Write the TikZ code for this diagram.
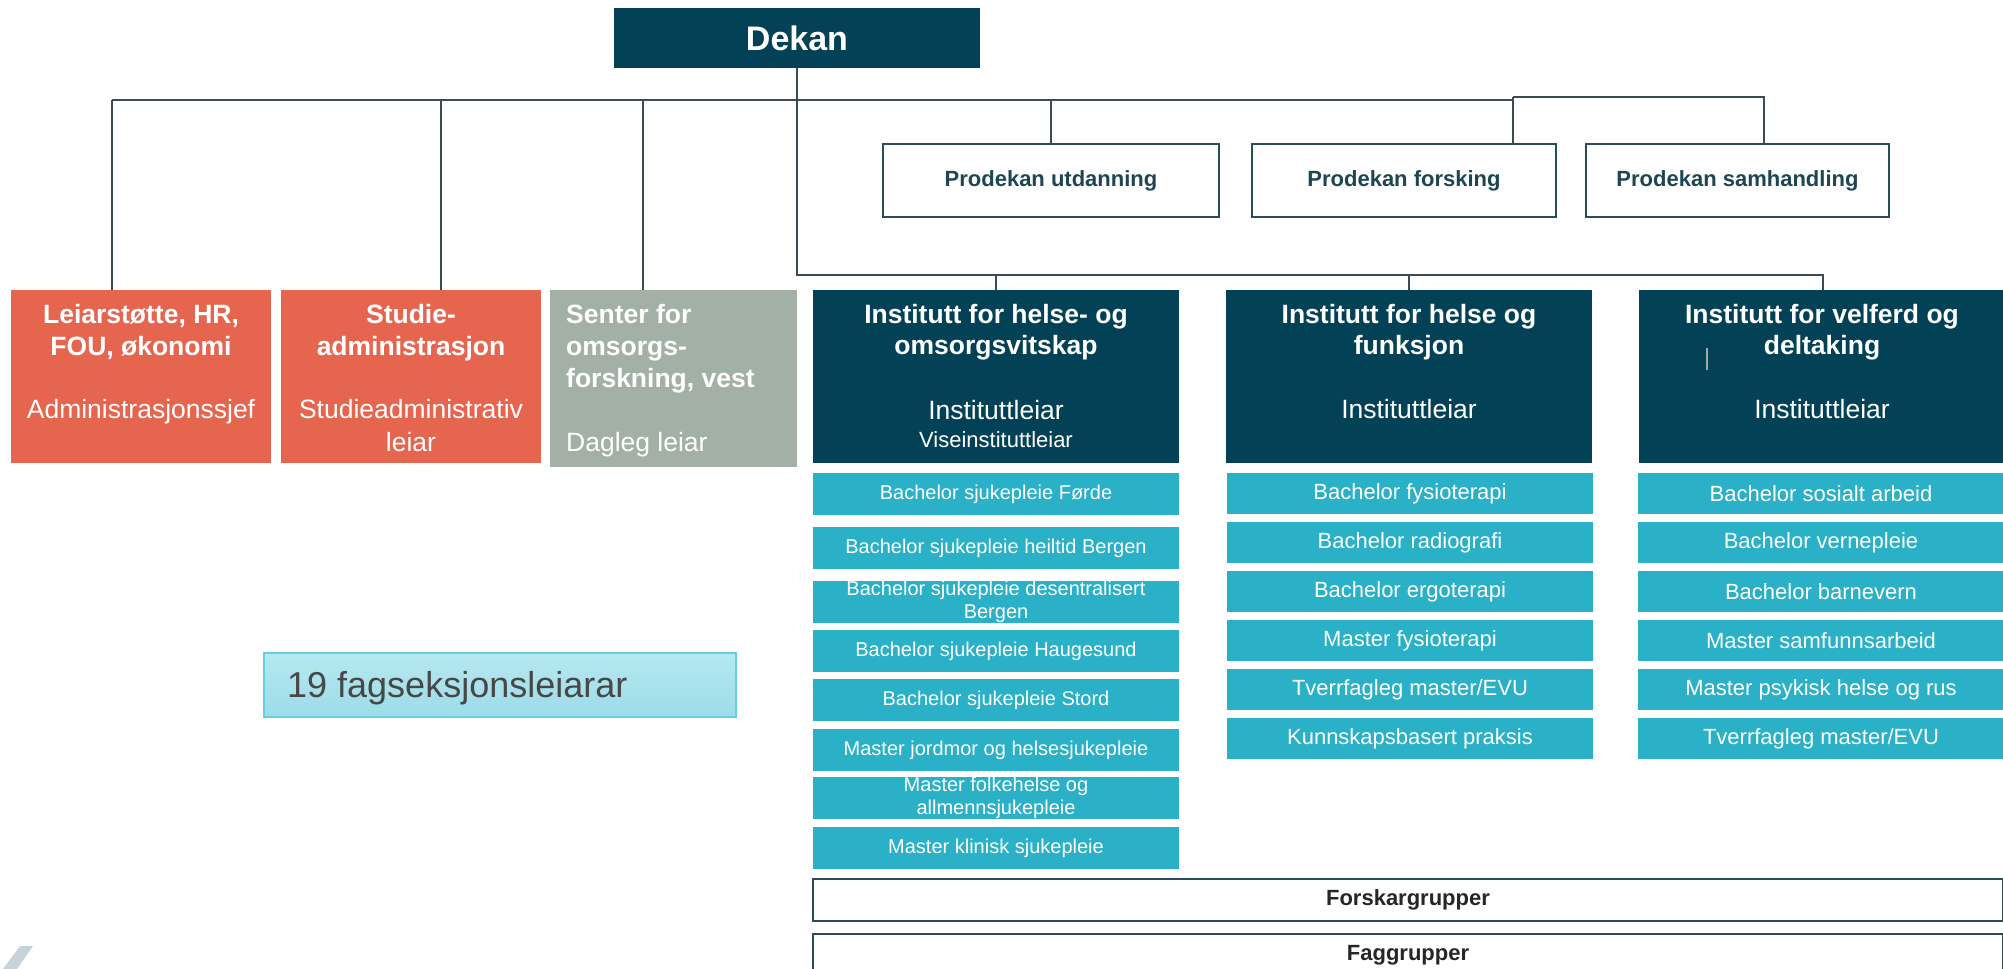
\documentclass[tikz,border=0pt]{standalone}
\usepackage{fontspec}
\setmainfont{Liberation Sans}
\definecolor{dteal}{HTML}{034256}
\definecolor{coral}{HTML}{E6654F}
\definecolor{sage}{HTML}{A2B0A5}
\definecolor{prog}{HTML}{2AB0C7}
\definecolor{conncol}{HTML}{3C4C52}
\definecolor{framecol}{HTML}{2A4E58}
\definecolor{protext}{HTML}{1E4652}
\definecolor{lcyanT}{HTML}{B6E8F0}
\definecolor{lcyanB}{HTML}{9CDCE8}
\definecolor{lcyanD}{HTML}{66D0E2}
\definecolor{logogrey}{HTML}{C6D3DA}
\newcommand\myfs[2]{\fontsize{#1}{#2}\selectfont}
\begin{document}
\begin{tikzpicture}[x=1pt,y=-1pt,
  box/.style={anchor=north west, inner sep=0pt, outer sep=0pt, draw=none},
  conn/.style={draw=conncol, line width=2pt},
  ttl/.style={font=\myfs{26.5}{30}\bfseries, text=white, anchor=base, inner sep=0pt},
  sub/.style={font=\myfs{26.5}{30}, text=white, anchor=base, inner sep=0pt},
  pro/.style={box, fill=white, draw=framecol, line width=2.6pt, minimum height=73pt,
     font=\myfs{22}{26}\bfseries, text=protext, anchor=north west},
  pone/.style={box, fill=prog, minimum width=366pt, minimum height=42pt, text=white,
     font=\myfs{20}{23}, align=center},
  ptwo/.style={box, fill=prog, minimum width=366pt, minimum height=41pt, text=white,
     font=\myfs{22}{25}, align=center},
  band/.style={box, fill=white, draw=framecol, line width=2.6pt, minimum width=1190pt,
     font=\myfs{22}{26}\bfseries, text=black!85}
]
\useasboundingbox (0,0) rectangle (2003,969);
\fill[white] (0,0) rectangle (2003,969);

% Dekan
\node[box, fill=dteal, minimum width=366pt, minimum height=60pt] (dekan) at (614,8) {};
\node[font=\myfs{34}{38}\bfseries, text=white, anchor=base, inner sep=0pt] (dekant) at (797,50) {Dekan};

% Prodekan boxes
\node[pro, minimum width=336pt] (utd) at (883,144) {Prodekan utdanning};
\node[pro, minimum width=304pt] (fors) at (1252,144) {Prodekan forsking};
\node[pro, minimum width=303pt] (samh) at (1586,144) {Prodekan samhandling};

% Left boxes
\node[box, fill=coral, minimum width=260pt, minimum height=173pt] (leiar) at (11,290) {};
\node[box, fill=coral, minimum width=260pt, minimum height=173pt] (studie) at (281,290) {};
\node[box, fill=sage, minimum width=247pt, minimum height=177pt] (senter) at (550,290) {};

\node[ttl] (l1) at (141,323) {Leiarstøtte, HR,};
\node[ttl] (l2) at (141,355) {FOU, økonomi};
\node[sub] (l3) at (141,418) {Administrasjonssjef};

\node[ttl] (s1) at (411,323) {Studie-};
\node[ttl] (s2) at (411,355) {administrasjon};
\node[sub] (s3) at (411,418) {Studieadministrativ};
\node[sub] (s4) at (411,451) {leiar};

\node[ttl, anchor=base west] (c1) at (566,323) {Senter for};
\node[ttl, anchor=base west] (c2) at (566,355) {omsorgs-};
\node[ttl, anchor=base west] (c3) at (566,387) {forskning, vest};
\node[sub, anchor=base west] (c4) at (566,451) {Dagleg leiar};

% Institutes
\node[box, fill=dteal, minimum width=366pt, minimum height=173pt] (inst1) at (813,290) {};
\node[box, fill=dteal, minimum width=366pt, minimum height=173pt] (inst2) at (1226,290) {};
\node[box, fill=dteal, minimum width=367pt, minimum height=173pt] (inst3) at (1639,290) {};

\node[ttl] (i11) at (996,323) {Institutt for helse- og};
\node[ttl] (i12) at (996,354) {omsorgsvitskap};
\node[sub] (i13) at (996,419) {Instituttleiar};
\node[sub, font=\myfs{22}{25}] (i14) at (996,447) {Viseinstituttleiar};

\node[ttl] (i21) at (1409,323) {Institutt for helse og};
\node[ttl] (i22) at (1409,354) {funksjon};
\node[sub] (i23) at (1409,418) {Instituttleiar};

\node[ttl] (i31) at (1822,323) {Institutt for velferd og};
\node[ttl] (i32) at (1822,354) {deltaking};
\node[sub] (i33) at (1822,418) {Instituttleiar};
\draw[draw=gray!70, line width=1.2pt] (1707,348) -- (1707,370);

% Programmes column 1
\node[pone] (a1) at (813,473) {Bachelor sjukepleie Førde};
\node[pone] (a2) at (813,527) {Bachelor sjukepleie heiltid Bergen};
\node[pone] (a3) at (813,581) {Bachelor sjukepleie desentralisert\\Bergen};
\node[pone] (a4) at (813,630) {Bachelor sjukepleie Haugesund};
\node[pone] (a5) at (813,679) {Bachelor sjukepleie Stord};
\node[pone] (a6) at (813,729) {Master jordmor og helsesjukepleie};
\node[pone] (a7) at (813,777) {Master folkehelse og\\allmennsjukepleie};
\node[pone] (a8) at (813,827) {Master klinisk sjukepleie};

% Programmes column 2
\node[ptwo] (b1) at (1227,473) {Bachelor fysioterapi};
\node[ptwo] (b2) at (1227,522) {Bachelor radiografi};
\node[ptwo] (b3) at (1227,571) {Bachelor ergoterapi};
\node[ptwo] (b4) at (1227,620) {Master fysioterapi};
\node[ptwo] (b5) at (1227,669) {Tverrfagleg master/EVU};
\node[ptwo] (b6) at (1227,718) {Kunnskapsbasert praksis};

% Programmes column 3
\node[ptwo] (d1) at (1638,473) {Bachelor sosialt arbeid};
\node[ptwo] (d2) at (1638,522) {Bachelor vernepleie};
\node[ptwo] (d3) at (1638,571) {Bachelor barnevern};
\node[ptwo] (d4) at (1638,620) {Master samfunnsarbeid};
\node[ptwo] (d5) at (1638,669) {Master psykisk helse og rus};
\node[ptwo] (d6) at (1638,718) {Tverrfagleg master/EVU};

% Bands
\node[band, minimum height=42pt] (forsk) at (813,879) {Forskargrupper};
\node[band, minimum height=42pt] (fagg) at (813,934) {Faggrupper};

% 19 fagseksjonsleiarar
\shade[top color=lcyanT, bottom color=lcyanB] (264,653) rectangle (736,717);
\node[box, draw=lcyanD, line width=1.3pt, minimum width=472pt, minimum height=64pt] (fs19) at (264,653) {};
\node[font=\myfs{36}{40}, text=black!72, anchor=base west, inner sep=0pt] (fs19t) at (287,697) {19 fagseksjonsleiarar};

% logo fragment
\fill[logogrey] (3,969) -- (17,969) -- (33,946) -- (20,946) -- cycle;

% Connectors
\coordinate (jbar) at (0,275);
\draw[conn] (dekan.south) -- (dekan.south |- jbar) -| (inst3.north);
\draw[conn] (inst1.north) -- (inst1.north |- jbar);
\draw[conn] (inst2.north) -- (inst2.north |- jbar);

\coordinate (tL) at (112,100);
\coordinate (tS) at (441,100);
\coordinate (tC) at (643,100);
\coordinate (tR) at (1513,100);
\coordinate (tF) at (1513,97);
\coordinate (tH) at (1764,97);
\draw[conn] (tL) -- (tR);
\draw[conn] (tL) -- (leiar.north -| tL);
\draw[conn] (tS) -- (studie.north -| tS);
\draw[conn] (tC) -- (senter.north -| tC);
\draw[conn] (utd.north) -- (utd.north |- tL);
\draw[conn] (tR) -- (tF) -- (fors.north -| tF);
\draw[conn] (tF) -- (tH) -- (samh.north -| tH);
\end{tikzpicture}
\end{document}
